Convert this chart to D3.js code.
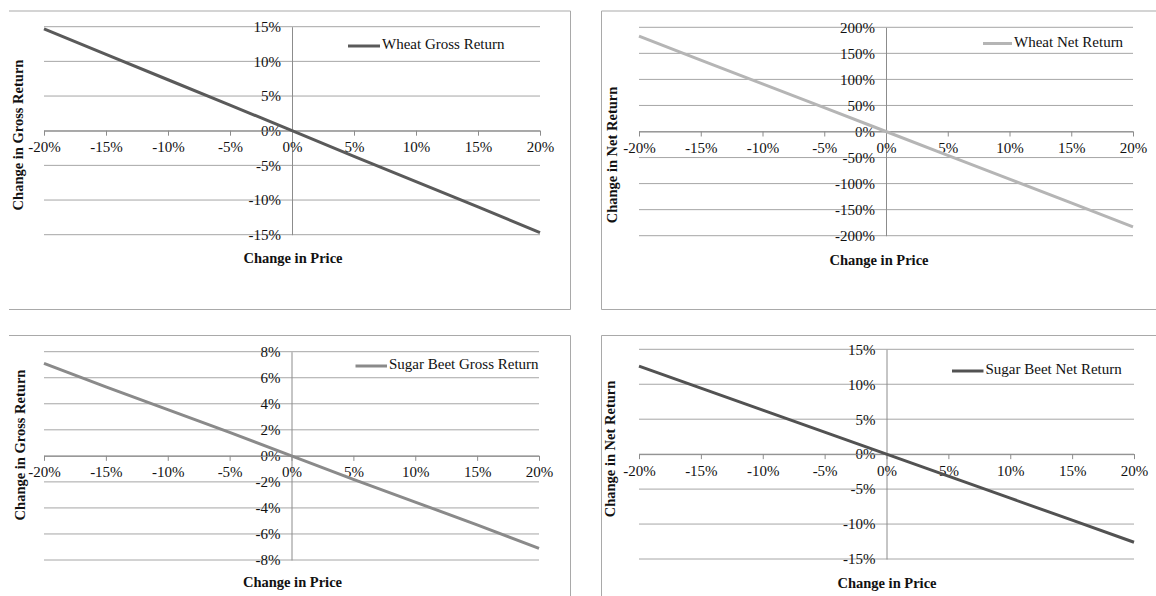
<!DOCTYPE html>
<html>
<head>
<meta charset="utf-8">
<script src="https://cdn.jsdelivr.net/npm/d3@7"></script>
<style>
  body { margin: 0; background: #fff; }
  text { font-family: "Liberation Serif", "Times New Roman", serif; fill: #111; }
</style>
</head>
<body>
<svg id="chart" width="1156" height="596"></svg>
<script>
// price change steps (x) shared by all four charts
let priceChange = [-0.20, -0.15, -0.10, -0.05, 0, 0.05, 0.10, 0.15, 0.20];
let xTicks = [-0.20, -0.15, -0.10, -0.05, 0, 0.05, 0.10, 0.15, 0.20];

// series
let wheatGross = [0.147, 0.110, 0.0735, 0.037, 0, -0.037, -0.0735, -0.110, -0.147];
let wheatNet = [1.83, 1.37, 0.915, 0.46, 0, -0.46, -0.915, -1.37, -1.83];
let beetGross = [0.071, 0.053, 0.0355, 0.018, 0, -0.018, -0.0355, -0.053, -0.071];
let beetNet = [0.126, 0.0945, 0.063, 0.0315, 0, -0.0315, -0.063, -0.0945, -0.126];

// y tick labels
let wheatGrossTicks = [-0.15, -0.10, -0.05, 0, 0.05, 0.10, 0.15];
let wheatNetTicks = [-2, -1.5, -1, -0.5, 0, 0.5, 1, 1.5, 2];
let beetGrossTicks = [-0.08, -0.06, -0.04, -0.02, 0, 0.02, 0.04, 0.06, 0.08];
let beetNetTicks = [-0.15, -0.10, -0.05, 0, 0.05, 0.10, 0.15];

let seriesNames = ["Wheat Gross Return", "Wheat Net Return", "Sugar Beet Gross Return", "Sugar Beet Net Return"];
let yTitles = ["Change in Gross Return", "Change in Net Return", "Change in Gross Return", "Change in Net Return"];
let xTitle = "Change in Price";

const svg = d3.select("#chart");
const pct = d => d3.format(".0%")(d).replace("\u2212", "-");

// layout of each panel (pixels)
let panels = [
  { values: wheatGross, ticks: wheatGrossTicks, color: "#5a5a5a", box: [9, 11, 570.5, 309.5], noLeft: true,
    xr: [44, 540], yr: [234.7, 26.7], leg: [348, 380, 46], yt: [20, 135], xt: [293, 260] },
  { values: wheatNet, ticks: wheatNetTicks, color: "#b5b5b5", box: [601.5, 11, 1170, 309.5],
    xr: [639, 1133], yr: [235.7, 27.3], leg: [983, 1012, 43.5], yt: [613.5, 155], xt: [879, 262] },
  { values: beetGross, ticks: beetGrossTicks, color: "#8a8a8a", box: [9, 335.5, 570.5, 610], noLeft: true,
    xr: [44, 539], yr: [560, 351.7], leg: [355.5, 387, 366], yt: [22, 445], xt: [292.5, 584] },
  { values: beetNet, ticks: beetNetTicks, color: "#525252", box: [601.5, 335.5, 1170, 610],
    xr: [639, 1134], yr: [559, 349.3], leg: [952, 983.5, 371], yt: [612, 449], xt: [887, 585] }
];

panels.forEach((p, i) => {
  let g = svg.append("g");
  let [bx0, by0, bx1, by1] = p.box;

  // outer frame
  let frame = p.noLeft
    ? `M${bx0},${by0}H${bx1}V${by1}H${bx0}`
    : `M${bx1},${by0}H${bx0}V${by1}H${bx1}`;
  g.append("path").attr("d", frame).attr("fill", "none").attr("stroke", "#a9a9a9").attr("stroke-width", 1);

  let ext = d3.extent(p.ticks);
  let x = d3.scaleLinear().domain([-0.20, 0.20]).range(p.xr);
  let y = d3.scaleLinear().domain(ext).range(p.yr);

  // horizontal gridlines
  g.selectAll(".grid")
    .data(p.ticks)
    .enter()
    .append("line")
    .attr("x1", p.xr[0]).attr("x2", p.xr[1])
    .attr("y1", d => y(d)).attr("y2", d => y(d))
    .attr("stroke", "#a6a6a6").attr("stroke-width", 1);

  // y axis through x = 0
  let yAxis = d3.axisLeft(y).tickValues(p.ticks).tickFormat(pct).tickSize(0).tickPadding(11);
  let ya = g.append("g").attr("transform", `translate(${x(0)},0)`).call(yAxis);
  ya.select(".domain").attr("stroke", "#8c8c8c");
  ya.selectAll("text").style("font-size", "15px").style("font-family", "Liberation Serif").attr("fill", "#111");

  // x axis through y = 0
  let xAxis = d3.axisBottom(x).tickValues(xTicks).tickFormat(pct).tickSizeInner(5).tickSizeOuter(0).tickPadding(6);
  let xa = g.append("g").attr("transform", `translate(0,${y(0)})`).call(xAxis);
  xa.select(".domain").attr("stroke", "#8c8c8c");
  xa.selectAll(".tick line").attr("stroke", "#8c8c8c");
  xa.selectAll("text").style("font-size", "15px").style("font-family", "Liberation Serif").attr("fill", "#111");

  // series line
  let line = d3.line().x((d, j) => x(priceChange[j])).y(d => y(d));
  g.append("path")
    .datum(p.values)
    .attr("d", line)
    .attr("fill", "none")
    .attr("stroke", p.color)
    .attr("stroke-width", 3);

  // legend
  g.append("line")
    .attr("x1", p.leg[0]).attr("x2", p.leg[1])
    .attr("y1", p.leg[2]).attr("y2", p.leg[2])
    .attr("stroke", p.color).attr("stroke-width", 3);
  g.append("text")
    .attr("x", p.leg[1] + 2).attr("y", p.leg[2])
    .attr("dominant-baseline", "middle")
    .style("font-size", "15px")
    .text(seriesNames[i]);

  // axis titles
  g.append("text")
    .attr("transform", `translate(${p.yt[0]},${p.yt[1]}) rotate(-90)`)
    .attr("text-anchor", "middle")
    .attr("dominant-baseline", "middle")
    .style("font-size", "14.5px").style("font-weight", "bold")
    .text(yTitles[i]);
  g.append("text")
    .attr("x", p.xt[0]).attr("y", p.xt[1])
    .attr("text-anchor", "middle")
    .attr("dominant-baseline", "middle")
    .style("font-size", "14.5px").style("font-weight", "bold")
    .text(xTitle);
});
</script>
</body>
</html>
